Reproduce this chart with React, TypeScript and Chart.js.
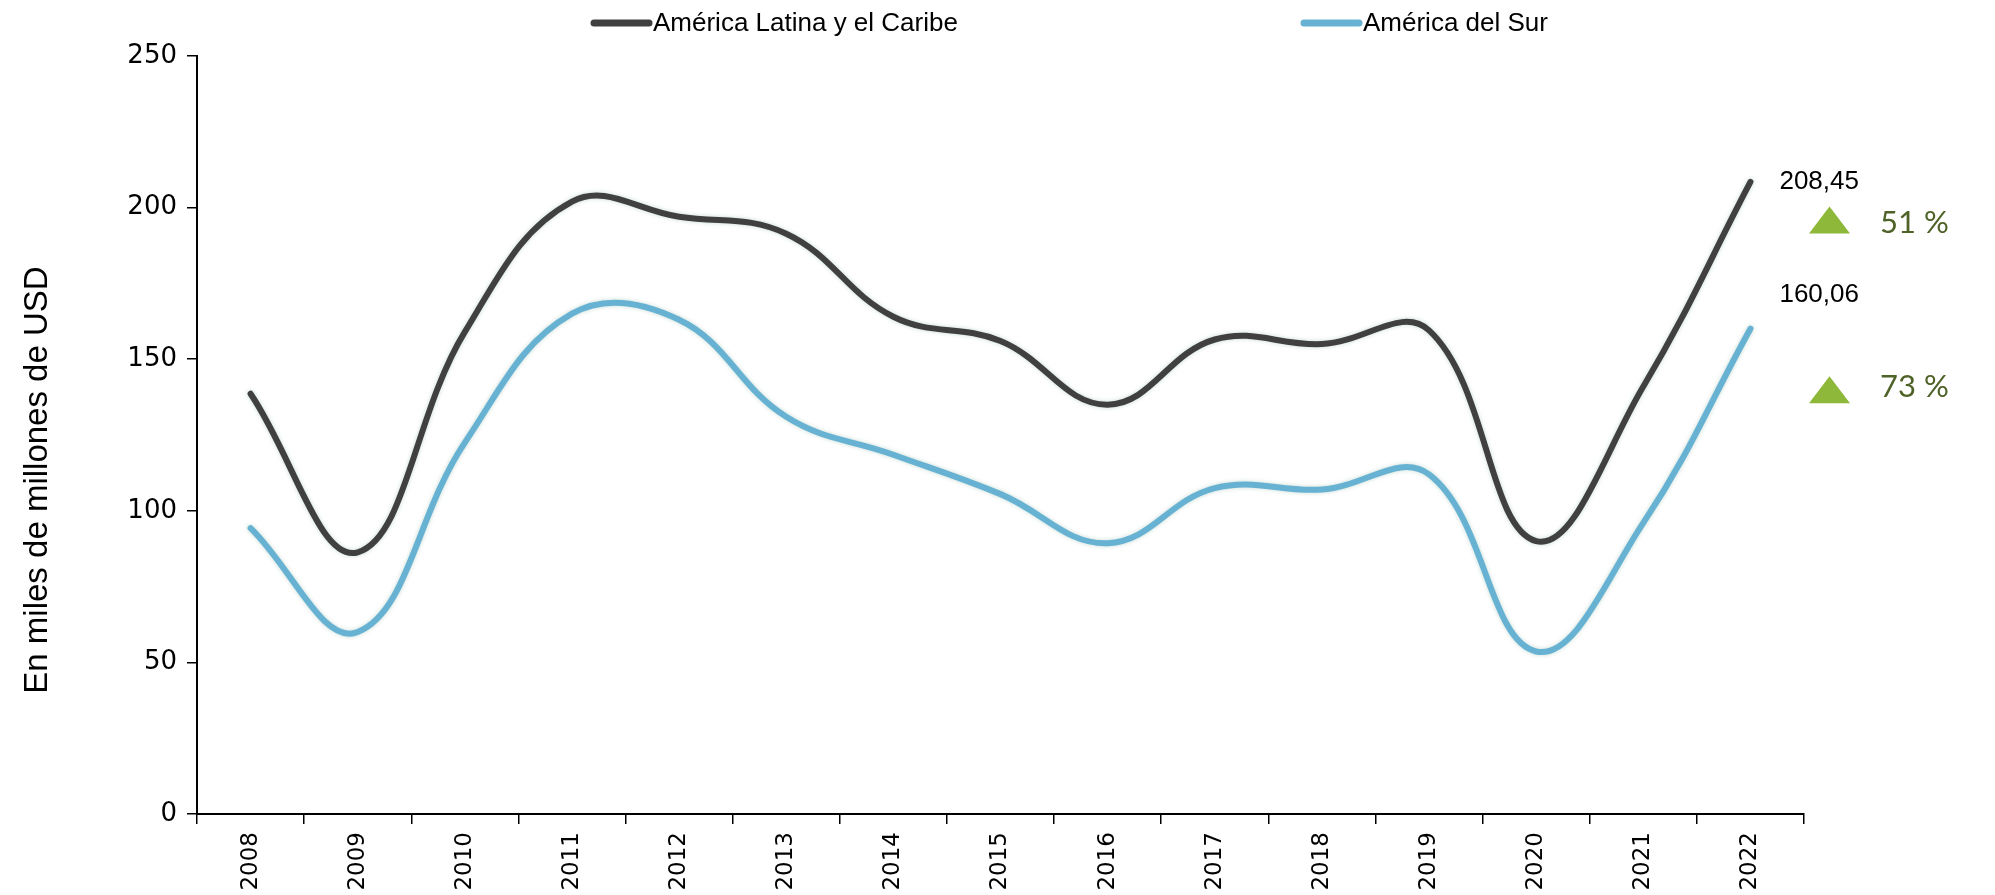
import React, { useEffect, useRef } from "react";
import { Chart, registerables } from "chart.js";

Chart.register(...registerables);

// ---- Data ----
const years = ["2008", "2009", "2010", "2011", "2012", "2013", "2014", "2015", "2016", "2017", "2018", "2019", "2020", "2021", "2022"];
const latamValues = [138.6, 86.3, 159, 202, 197, 191.4, 164, 156, 135, 156.5, 155, 159.5, 90, 141, 208.45];
const surValues = [94.3, 60, 122.5, 165, 163, 131, 118.5, 105.5, 89.3, 107.5, 107, 112, 53.6, 96, 160.06];
const seriesNames = ["América Latina y el Caribe", "América del Sur"];
const seriesColors = ["#404040", "#67B2D3"];
const endLabels = ["208,45", "160,06"];
const changeLabels = ["51 %", "73 %"];
const yTickValues = [0, 50, 100, 150, 200, 250];
const yTitle = "En miles de millones de USD";

// ---- Styles / layout (not data) ----
const W = 1995;
const H = 895;
const endLabelDy = [0, -34];
const changeDy = [38, 61];

const overlayPlugin = {
  id: "overlay",
  beforeDatasetDraw(chart: any) {
    const ctx = chart.ctx;
    ctx.shadowColor = "rgba(150,190,175,0.55)";
    ctx.shadowBlur = 4;
  },
  afterDatasetDraw(chart: any) {
    const ctx = chart.ctx;
    ctx.shadowColor = "rgba(0,0,0,0)";
    ctx.shadowBlur = 0;
  },
  afterDraw(chart: any) {
    const ctx = chart.ctx;
    const area = chart.chartArea;
    ctx.save();

    // Legend
    const legendY = 23;
    const legendItems = [
      { x0: 594, x1: 649 },
      { x0: 1304, x1: 1359 },
    ];
    chart.data.datasets.forEach((ds: any, i: number) => {
      const it = legendItems[i];
      ctx.beginPath();
      ctx.lineCap = "round";
      ctx.lineWidth = 7;
      ctx.strokeStyle = ds.borderColor;
      ctx.moveTo(it.x0, legendY);
      ctx.lineTo(it.x1, legendY);
      ctx.stroke();
      ctx.fillStyle = "#000";
      ctx.font = "26px 'Liberation Sans', sans-serif";
      ctx.textAlign = "left";
      ctx.textBaseline = "middle";
      ctx.fillText(ds.label, it.x1 + 4, legendY + 1);
    });

    // Y axis title
    ctx.save();
    ctx.translate(38, 480);
    ctx.rotate(-Math.PI / 2);
    ctx.fillStyle = "#000";
    ctx.font = "33px 'Liberation Sans', sans-serif";
    ctx.textAlign = "center";
    ctx.textBaseline = "middle";
    ctx.fillText(yTitle, 0, 0);
    ctx.restore();

    // End labels and change indicators
    chart.data.datasets.forEach((ds: any, i: number) => {
      const meta = chart.getDatasetMeta(i);
      const last = meta.data[meta.data.length - 1];
      if (!last) return;
      const px = last.x;
      const py = last.y;
      ctx.fillStyle = "#000";
      ctx.font = "26px 'Liberation Sans', sans-serif";
      ctx.textAlign = "left";
      ctx.textBaseline = "middle";
      ctx.fillText(endLabels[i], px + 29, py + endLabelDy[i]);

      const cy = py + changeDy[i];
      const tx0 = area.right + 5;
      const tw = 41;
      const th = 27;
      ctx.beginPath();
      ctx.moveTo(tx0, cy + th / 2);
      ctx.lineTo(tx0 + tw, cy + th / 2);
      ctx.lineTo(tx0 + tw / 2, cy - th / 2);
      ctx.closePath();
      ctx.fillStyle = "#8DB83A";
      ctx.fill();

      ctx.fillStyle = "#4F6228";
      ctx.font = "31px Lato, 'Open Sans', sans-serif";
      ctx.textAlign = "left";
      ctx.textBaseline = "middle";
      ctx.fillText(changeLabels[i], area.right + 76, cy + (i === 0 ? 3 : -3));
    });

    ctx.restore();
  },
};

export default function App() {
  const canvasRef = useRef<HTMLCanvasElement | null>(null);

  useEffect(() => {
    document.body.style.margin = "0";
    const canvas = canvasRef.current;
    if (!canvas) return;
    const chart = new Chart(canvas, {
      type: "line",
      data: {
        labels: years,
        datasets: [
          {
            label: seriesNames[0],
            data: latamValues,
            borderColor: seriesColors[0],
            backgroundColor: seriesColors[0],
            borderWidth: 6,
            pointRadius: 0,
            tension: 0.4,
            borderCapStyle: "round",
            borderJoinStyle: "round",
            fill: false,
          },
          {
            label: seriesNames[1],
            data: surValues,
            borderColor: seriesColors[1],
            backgroundColor: seriesColors[1],
            borderWidth: 6,
            pointRadius: 0,
            tension: 0.4,
            borderCapStyle: "round",
            borderJoinStyle: "round",
            fill: false,
          },
        ],
      },
      options: {
        animation: false,
        responsive: true,
        maintainAspectRatio: false,
        layout: { padding: { top: 56, right: 191, left: 0, bottom: 0 } },
        plugins: {
          legend: { display: false },
          tooltip: { enabled: false },
        },
        scales: {
          x: {
            type: "category",
            offset: true,
            grid: {
              display: true,
              offset: true,
              drawOnChartArea: false,
              drawTicks: true,
              tickLength: 10,
              color: "#000",
              lineWidth: 1.5,
            },
            border: { display: true, color: "#000", width: 2 },
            ticks: {
              autoSkip: false,
              minRotation: 90,
              maxRotation: 90,
              padding: 8,
              color: "#000",
              font: { family: "'DejaVu Sans', sans-serif", size: 23 },
            },
            afterFit(scale: any) {
              scale.height = 81;
            },
          },
          y: {
            min: 0,
            max: 250,
            afterBuildTicks(scale: any) {
              scale.ticks = yTickValues.map((v) => ({ value: v }));
            },
            grid: {
              display: true,
              drawOnChartArea: false,
              drawTicks: true,
              tickLength: 10,
              color: "#000",
              lineWidth: 1.5,
            },
            border: { display: true, color: "#000", width: 2 },
            ticks: {
              padding: 10,
              color: "#000",
              font: { family: "'DejaVu Sans', sans-serif", size: 26 },
            },
            afterFit(scale: any) {
              scale.width = 197;
            },
          },
        },
      },
      plugins: [overlayPlugin],
    } as any);
    return () => chart.destroy();
  }, []);

  return (
    <div style={{ width: W, height: H, position: "relative", overflow: "hidden", background: "#fff" }}>
      <canvas ref={canvasRef} />
    </div>
  );
}
